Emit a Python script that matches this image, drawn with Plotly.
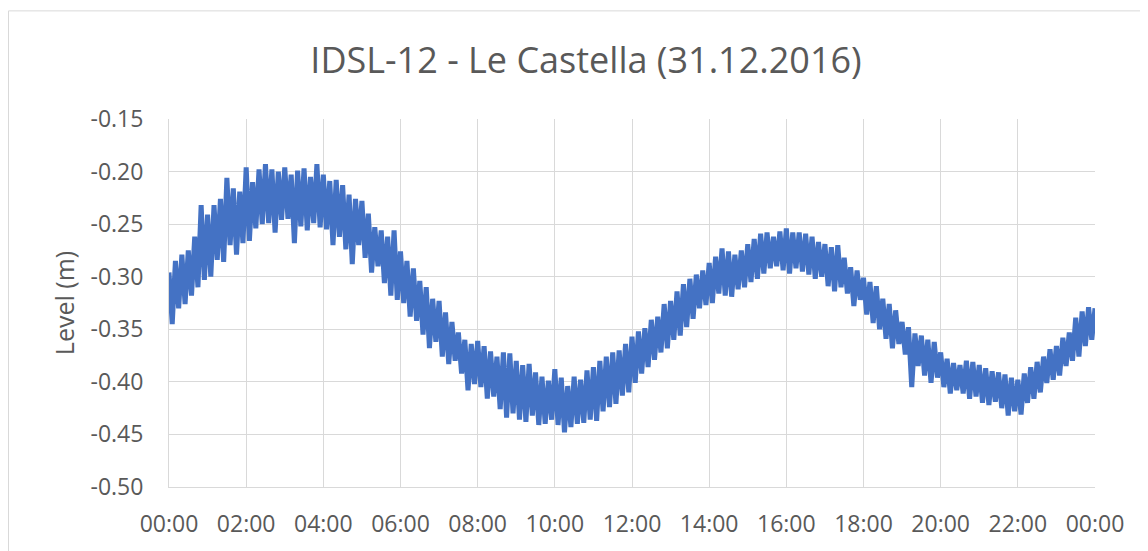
"""
IDSL-12 tide gauge level at Le Castella, 31.12.2016 (5-minute samples).
"""
import pandas as pd
import plotly.graph_objects as go

# ---------------------------------------------------------------------------
# DATA  (level in metres, one row per hour, 12 samples at 5-minute steps)
# ---------------------------------------------------------------------------
START_TIME = "2016-12-31 00:00"
END_TIME   = "2017-01-01 00:00"
SAMPLE_MINUTES = 5

LEVEL_M = [
    # 00:00
    -0.296, -0.345, -0.285, -0.330, -0.279, -0.326, -0.275, -0.318, -0.262, -0.310, -0.232, -0.303,
    # 01:00
    -0.241, -0.300, -0.232, -0.284, -0.226, -0.286, -0.206, -0.270, -0.216, -0.279, -0.219, -0.268,
    # 02:00
    -0.196, -0.266, -0.210, -0.254, -0.198, -0.250, -0.193, -0.249, -0.198, -0.258, -0.200, -0.246,
    # 03:00
    -0.196, -0.245, -0.203, -0.268, -0.199, -0.252, -0.197, -0.256, -0.205, -0.249, -0.193, -0.253,
    # 04:00
    -0.203, -0.255, -0.209, -0.270, -0.208, -0.262, -0.213, -0.274, -0.222, -0.288, -0.226, -0.270,
    # 05:00
    -0.228, -0.282, -0.240, -0.296, -0.253, -0.290, -0.256, -0.306, -0.262, -0.318, -0.256, -0.322,
    # 06:00
    -0.276, -0.325, -0.285, -0.338, -0.292, -0.342, -0.304, -0.355, -0.310, -0.368, -0.321, -0.362,
    # 07:00
    -0.323, -0.376, -0.334, -0.383, -0.343, -0.380, -0.353, -0.392, -0.360, -0.408, -0.364, -0.402,
    # 08:00
    -0.361, -0.405, -0.366, -0.416, -0.371, -0.414, -0.376, -0.426, -0.372, -0.434, -0.373, -0.430,
    # 09:00
    -0.380, -0.436, -0.384, -0.438, -0.383, -0.432, -0.391, -0.441, -0.395, -0.440, -0.399, -0.436,
    # 10:00
    -0.388, -0.441, -0.396, -0.448, -0.404, -0.443, -0.395, -0.440, -0.398, -0.439, -0.389, -0.436,
    # 11:00
    -0.386, -0.437, -0.380, -0.428, -0.376, -0.424, -0.372, -0.421, -0.370, -0.413, -0.364, -0.410,
    # 12:00
    -0.357, -0.401, -0.352, -0.392, -0.349, -0.386, -0.341, -0.379, -0.338, -0.372, -0.326, -0.368,
    # 13:00
    -0.323, -0.360, -0.314, -0.356, -0.307, -0.348, -0.302, -0.340, -0.298, -0.330, -0.294, -0.327,
    # 14:00
    -0.287, -0.325, -0.281, -0.316, -0.273, -0.318, -0.276, -0.319, -0.279, -0.312, -0.275, -0.310,
    # 15:00
    -0.269, -0.305, -0.264, -0.302, -0.259, -0.297, -0.258, -0.292, -0.262, -0.290, -0.257, -0.294,
    # 16:00
    -0.254, -0.297, -0.258, -0.292, -0.258, -0.295, -0.259, -0.298, -0.262, -0.302, -0.267, -0.300,
    # 17:00
    -0.269, -0.309, -0.272, -0.314, -0.270, -0.310, -0.282, -0.316, -0.291, -0.328, -0.294, -0.322,
    # 18:00
    -0.301, -0.336, -0.305, -0.344, -0.309, -0.350, -0.321, -0.359, -0.326, -0.368, -0.332, -0.364,
    # 19:00
    -0.343, -0.374, -0.348, -0.405, -0.354, -0.385, -0.356, -0.394, -0.360, -0.401, -0.362, -0.396,
    # 20:00
    -0.372, -0.405, -0.378, -0.411, -0.382, -0.408, -0.384, -0.411, -0.380, -0.416, -0.381, -0.414,
    # 21:00
    -0.384, -0.420, -0.387, -0.422, -0.390, -0.419, -0.391, -0.425, -0.393, -0.432, -0.396, -0.428,
    # 22:00
    -0.398, -0.431, -0.392, -0.420, -0.386, -0.416, -0.381, -0.410, -0.376, -0.401, -0.369, -0.398,
    # 23:00
    -0.366, -0.394, -0.358, -0.385, -0.353, -0.380, -0.339, -0.376, -0.333, -0.366, -0.329, -0.360,
    # 24:00
    -0.330,
]

Y_TICKS = [-0.50, -0.45, -0.40, -0.35, -0.30, -0.25, -0.20, -0.15]
Y_TICK_TEXT = [f"{v:.2f}" for v in Y_TICKS]   # plain hyphen, as in Excel

TITLE      = "IDSL-12 - Le Castella (31.12.2016)"
Y_TITLE    = "Level (m)"
LINE_COLOR = "#4472C4"
GRID_COLOR = "#D9D9D9"
TEXT_COLOR = "#595959"
FONT       = "Open Sans, sans-serif"

# The page body keeps its 8px default margin, so the figure is 8px smaller
W, H = 1140, 543
L, R, T, B = 161, 53, 111, 61

times = pd.date_range(START_TIME, END_TIME, freq=f"{SAMPLE_MINUTES}min")

fig = go.Figure()
fig.add_trace(go.Scatter(
    x=times, y=LEVEL_M, mode="lines",
    line=dict(color=LINE_COLOR, width=5),
    showlegend=False,
))

# chart-area frame (Excel style, cut by the page on the right and bottom)
pw, ph = W - L - R, H - T - B
fig.add_shape(
    type="rect", xref="paper", yref="paper",
    x0=(0.5 - L) / pw, x1=(W + 20 - L) / pw,
    y0=(H - B - (H + 20)) / ph, y1=(H - B - 2) / ph,
    line=dict(color=GRID_COLOR, width=1), layer="below",
)

fig.update_layout(
    width=W, height=H,
    margin=dict(l=L, r=R, t=T, b=B),
    paper_bgcolor="white", plot_bgcolor="white",
    font=dict(family=FONT, color=TEXT_COLOR),
    title=dict(
        text=TITLE, font=dict(size=36, color=TEXT_COLOR, family=FONT),
        xref="container", x=(586 - 8) / W, xanchor="center",
        yref="container", y=1 - (60 - 8) / H, yanchor="middle",
    ),
    xaxis=dict(
        range=[START_TIME, END_TIME], tickformat="%H:%M", dtick=2 * 3600 * 1000,
        tick0=START_TIME,
        showgrid=True, gridcolor=GRID_COLOR, gridwidth=1,
        showline=True, linecolor=GRID_COLOR, linewidth=1,
        ticks="", ticklabelstandoff=16,
        tickfont=dict(size=23, color=TEXT_COLOR, family=FONT),
        zeroline=False,
    ),
    yaxis=dict(
        range=[-0.50, -0.15], tickvals=Y_TICKS, ticktext=Y_TICK_TEXT,
        showgrid=True, gridcolor=GRID_COLOR, gridwidth=1,
        showline=True, linecolor=GRID_COLOR, linewidth=1,
        ticks="", ticklabelstandoff=20,
        tickfont=dict(size=23, color=TEXT_COLOR, family=FONT),
        title=dict(text=Y_TITLE, font=dict(size=25, color=TEXT_COLOR, family=FONT),
                   standoff=8),
        zeroline=False,
    ),
)

fig.write_html("out.html")
